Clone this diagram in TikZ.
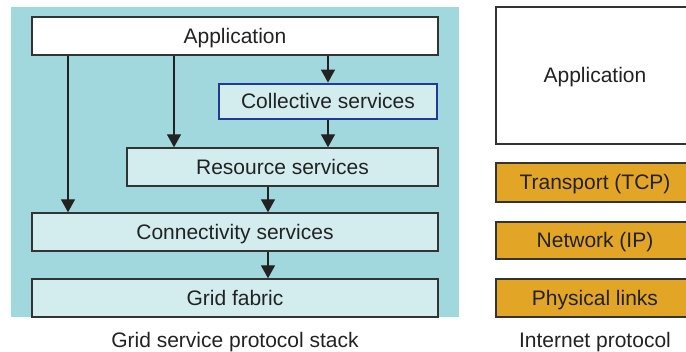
\documentclass[tikz,border=0pt]{standalone}
\usepackage{fontspec}
\setmainfont{Liberation Sans}
\usetikzlibrary{arrows.meta}
\definecolor{tealbg}{HTML}{A0D8DD}
\definecolor{lightbox}{HTML}{D3EDEF}
\definecolor{orangebox}{HTML}{E3A525}
\definecolor{bluebord}{HTML}{1F3A99}
\definecolor{darkline}{HTML}{333333}
\definecolor{txt}{HTML}{222222}
\tikzset{
  lay/.style={draw=darkline, line width=1.4pt, rectangle, inner sep=0pt, text=txt,
    font=\fontsize{21}{25}\selectfont, text height=15pt, text depth=0pt},
  lbox/.style={lay, fill=lightbox},
  wbox/.style={lay, fill=white},
  obox/.style={lay, fill=orangebox},
  cbox/.style={lay, fill=lightbox, draw=bluebord, line width=2.8pt},
  arr/.style={draw=txt, line width=1.4pt, -{Triangle[width=14pt,length=13pt]}},
  captext/.style={text=txt, font=\fontsize{21}{25}\selectfont, inner sep=0pt,
    text height=15pt, text depth=0pt}
}
\begin{document}
\begin{tikzpicture}[x=1pt,y=-1pt]
\useasboundingbox (0,0) rectangle (686,352);
\clip (0,0) rectangle (686,352);
\fill[tealbg] (11,7) rectangle (459,317);
\node[wbox, minimum width=406pt, minimum height=38pt] (app) at (235,36) {Application};
\node[cbox, minimum width=218pt, minimum height=35pt] (coll) at (328,101.5) {Collective services};
\node[lbox, minimum width=311pt, minimum height=38pt] (res) at (282.5,167) {Resource services};
\node[lbox, minimum width=406pt, minimum height=38pt] (conn) at (235,232) {Connectivity services};
\node[lbox, minimum width=406pt, minimum height=38pt] (fab) at (235,298) {Grid fabric};
\node[captext] (cap1) at (235,340) {Grid service protocol stack};
\coordinate (xa) at (68,0);
\coordinate (xb) at (174,0);
\coordinate (xc) at (328,0);
\coordinate (xd) at (268,0);
\draw[arr] (app.south -| xa) -- (conn.north -| xa);
\draw[arr] (app.south -| xb) -- (res.north -| xb);
\draw[arr] (app.south -| xc) -- (coll.north -| xc);
\draw[arr] (coll.south -| xc) -- (res.north -| xc);
\draw[arr] (res.south -| xd) -- (conn.north -| xd);
\draw[arr] (conn.south -| xd) -- (fab.north -| xd);
\node[wbox, minimum width=198pt, minimum height=137pt] (iapp) at (595,75.5) {Application};
\node[obox, minimum width=198pt, minimum height=39pt] (tcp) at (595,182.5) {Transport (TCP)};
\node[obox, minimum width=198pt, minimum height=37pt] (ip) at (595,240.5) {Network (IP)};
\node[obox, minimum width=198pt, minimum height=38pt] (phy) at (595,298) {Physical links};
\node[captext] (cap2) at (595,340) {Internet protocol};
\end{tikzpicture}
\end{document}
